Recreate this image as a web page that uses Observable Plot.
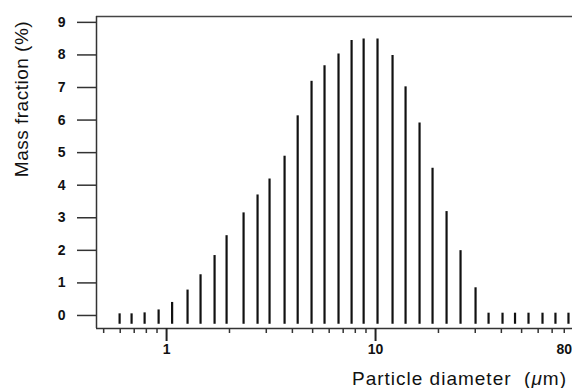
<!DOCTYPE html>
<html><head><meta charset="utf-8">
<script src="https://cdn.jsdelivr.net/npm/d3@7"></script>
<script src="https://cdn.jsdelivr.net/npm/@observablehq/plot@0.6"></script>
<style>
body{margin:0;background:#fff}
svg{display:block}
</style>
</head><body><div id="chart"></div>
<script>
// Particle diameter bins (µm)
const diameters = [0.596, 0.680, 0.785, 0.916, 1.063, 1.26, 1.454, 1.697, 1.937, 2.336,
  2.725, 3.11, 3.67, 4.24, 4.94, 5.70, 6.65, 7.68, 8.77, 10.22,
  12.06, 13.92, 16.24, 18.74, 21.87, 25.51, 30.10, 34.74, 40.52, 46.5,
  53.95, 62.95, 72.6, 83.8];
// Mass fraction (%)
const fractions = [0.05, 0.05, 0.08, 0.17, 0.40, 0.78, 1.25, 1.84, 2.45, 3.15,
  3.70, 4.19, 4.89, 6.13, 7.19, 7.67, 8.03, 8.44, 8.49, 8.49,
  7.98, 7.02, 5.91, 4.52, 3.19, 1.99, 0.85, 0.07, 0.07, 0.07,
  0.07, 0.07, 0.07, 0.07];
const yTicks = [0, 1, 2, 3, 4, 5, 6, 7, 8, 9];
const xLabelTicks = [1, 10, 80];
const xMajorTicks = [1, 10];
const xMinorTicks = [0.5, 0.6, 0.7, 0.8, 0.9, 2, 3, 4, 5, 6, 7, 8, 9, 20, 30, 40, 50, 60, 70, 80];
const xDomain = [0.462, 87.6];
const yDomain = [-0.4, 9.18];
const baseline = -0.27;
const yTitle = "Mass fraction (%)";
const xTitle = "Particle diameter\u00a0\u00a0(";
const xUnit = "\u03bc";

const data = diameters.map((d, i) => ({d, v: fractions[i]}));

const chart = Plot.plot({
  width: 572, height: 388,
  marginLeft: 96, marginRight: 0, marginTop: 16, marginBottom: 60,
  style: {fontFamily: "'Liberation Sans', Arial, sans-serif", color: "#111", background: "#fff"},
  x: {type: "log", domain: xDomain},
  y: {domain: yDomain},
  marks: [
    Plot.ruleX(data, {x: "d", y1: baseline, y2: "v", stroke: "#111", strokeWidth: 2.2}),
    Plot.ruleY([yDomain[0]], {stroke: "#333", strokeWidth: 1.5}),
    Plot.ruleY([yDomain[1]], {stroke: "#444", strokeWidth: 1.5}),
    Plot.ruleX([xDomain[0]], {stroke: "#333", strokeWidth: 1.5}),
    Plot.axisY({ticks: yTicks, tickSize: 19, tickPadding: 12, label: null, fontSize: 14, fontWeight: "bold", stroke: "#333", strokeWidth: 1.5}),
    Plot.axisX({ticks: xMinorTicks, tickSize: 5, tickFormat: () => "", label: null, stroke: "#333", strokeWidth: 1.5}),
    Plot.axisX({ticks: xMajorTicks, tickSize: 13, tickFormat: () => "", label: null, stroke: "#222", strokeWidth: 2}),
    Plot.text(xLabelTicks, {x: d => d, frameAnchor: "bottom", dy: 25, text: d => String(d), fontSize: 14, fontWeight: "bold", fill: "#111"})
  ]
});

const svg = d3.select(chart);
svg.append("text")
  .attr("transform", "translate(28,99) rotate(-90)")
  .attr("text-anchor", "middle")
  .attr("font-size", 19)
  .attr("letter-spacing", "0.5px")
  .attr("fill", "#111")
  .text(yTitle);
const xt = svg.append("text")
  .attr("x", 567).attr("y", 385)
  .attr("text-anchor", "end")
  .attr("font-size", 19)
  .attr("letter-spacing", "1px")
  .attr("fill", "#111");
xt.append("tspan").text(xTitle);
xt.append("tspan").attr("font-style", "italic").text(xUnit);
xt.append("tspan").text("m)");

document.getElementById("chart").append(chart);
</script>
</body></html>
